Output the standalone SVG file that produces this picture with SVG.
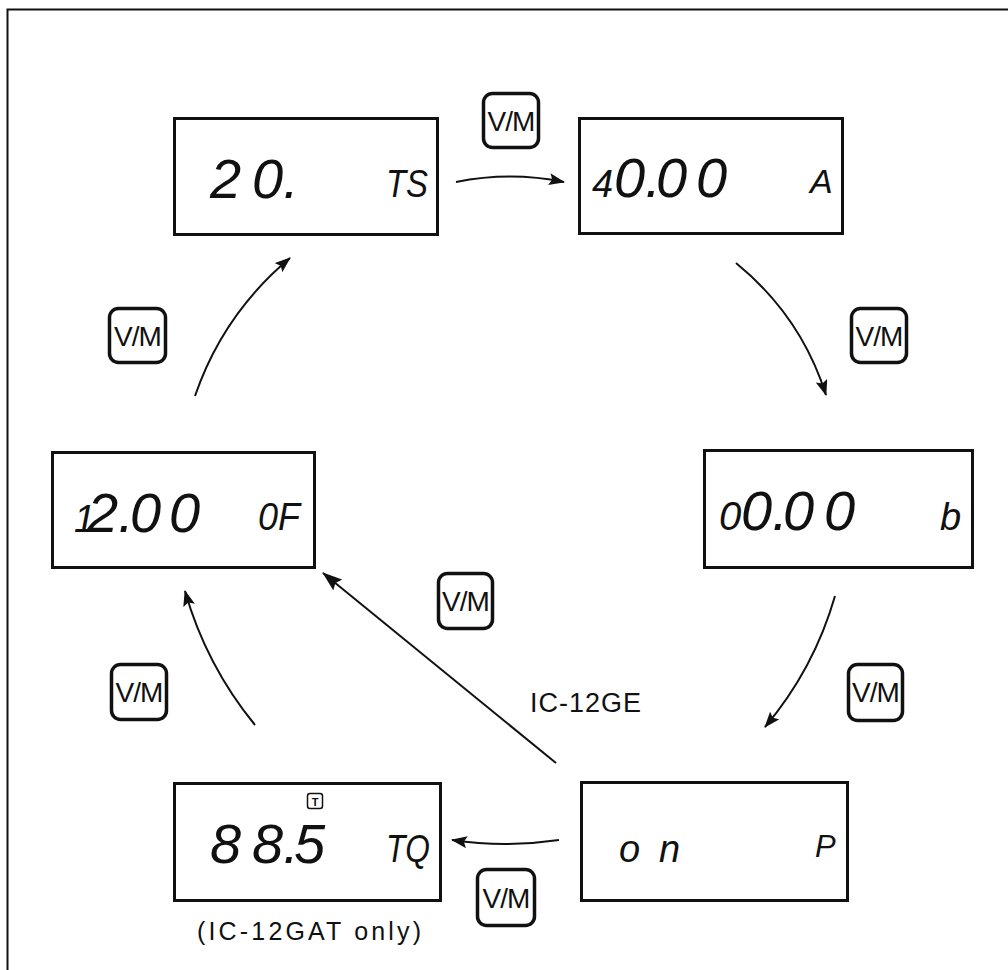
<svg xmlns="http://www.w3.org/2000/svg" width="1008" height="970" viewBox="0 0 1008 970">
<style>
.frame{fill:none;stroke:#111;stroke-width:2}
.box{fill:#fff;stroke:#111;stroke-width:3}
.btn{fill:#fff;stroke:#111;stroke-width:3.5}
.btxt{font-family:"Liberation Sans",Arial,sans-serif;font-size:28px;fill:#111;text-anchor:middle;letter-spacing:-1px}
.lcd{font-family:"Liberation Sans",Arial,sans-serif;font-style:italic;font-size:56px;fill:#111}
.lcds{font-family:"Liberation Sans",Arial,sans-serif;font-style:italic;font-size:38px;fill:#111}
.lbl{font-family:"Liberation Sans",Arial,sans-serif;font-size:25px;fill:#111}
.conn{fill:none;stroke:#111;stroke-width:2}
</style>
<defs>
<marker id="ah" markerUnits="userSpaceOnUse" markerWidth="16" markerHeight="12" refX="15" refY="6" orient="auto">
<path d="M0,0 L16,6 L0,12 L3,6 z" fill="#111"/>
</marker>
<marker id="ahl" markerUnits="userSpaceOnUse" markerWidth="20" markerHeight="14" refX="19" refY="7" orient="auto">
<path d="M0,0 L20,7 L0,14 L3,7 z" fill="#111"/>
</marker>
</defs>
<rect width="1008" height="970" fill="#fff"/>
<path class="frame" d="M7.5,970 L7.5,9.5 L1008,9.5"/>

<g id="connectors">
<path class="conn" d="M456,182 Q510,171 564,182" marker-end="url(#ah)"/>
<path class="conn" d="M736,263 Q801,316 826,395" marker-end="url(#ah)"/>
<path class="conn" d="M835,596 Q814,669 765,727" marker-end="url(#ah)"/>
<path class="conn" d="M559,840 Q505,848 452,840" marker-end="url(#ah)"/>
<path class="conn" d="M255,725 Q206,665 185,591" marker-end="url(#ah)"/>
<path class="conn" d="M195,396 Q223,314 290,258" marker-end="url(#ah)"/>
<path class="conn" d="M556,763 L323,573" marker-end="url(#ahl)"/>
</g>

<g id="node-ts">
<rect class="box" x="174.5" y="118.5" width="263" height="116"/>
<text class="lcd" y="198"><tspan x="210">2</tspan><tspan x="252">0.</tspan></text>
<text class="lcds" x="386" y="197" textLength="42" lengthAdjust="spacingAndGlyphs">TS</text>
</g>

<g id="node-a">
<rect class="box" x="579.5" y="118.5" width="263" height="115"/>
<text class="lcd" y="197"><tspan x="592" style="font-size:38px">4</tspan><tspan x="614">0.</tspan><tspan x="656">0</tspan><tspan x="696">0</tspan></text>
<text class="lcds" x="810" y="193" style="font-size:34px">A</text>
</g>

<g id="node-b">
<rect class="box" x="704.5" y="450.5" width="268" height="117"/>
<text class="lcd" y="530"><tspan x="719" style="font-size:40px">0</tspan><tspan x="741">0.</tspan><tspan x="783">0</tspan><tspan x="824">0</tspan></text>
<text class="lcds" x="940" y="530">b</text>
</g>

<g id="node-p">
<rect class="box" x="581.5" y="782.5" width="266" height="118"/>
<text class="lcds" y="862"><tspan x="619">o</tspan><tspan x="659">n</tspan></text>
<text class="lcds" x="815" y="857" style="font-size:31px">P</text>
</g>

<g id="node-tq">
<rect class="box" x="174.5" y="783.5" width="266" height="117"/>
<rect x="307.5" y="793.5" width="15" height="15" rx="2.5" fill="#fff" stroke="#111" stroke-width="1.5"/>
<text x="315" y="805.5" style="font-family:'Liberation Sans',Arial,sans-serif;font-size:11px;font-weight:bold;text-anchor:middle" fill="#111">T</text>
<text class="lcd" y="863"><tspan x="210">8</tspan><tspan x="252">8.</tspan><tspan x="294">5</tspan></text>
<text class="lcds" x="386" y="862" textLength="44" lengthAdjust="spacingAndGlyphs">TQ</text>
<text class="lbl" x="197" y="940" textLength="224" lengthAdjust="spacing">(IC-12GAT only)</text>
</g>

<g id="node-of">
<rect class="box" x="52.5" y="452.5" width="262" height="115"/>
<text class="lcd" y="532"><tspan x="74" style="font-size:38px">1</tspan><tspan x="87">2.</tspan><tspan x="130">0</tspan><tspan x="169">0</tspan></text>
<text class="lcds" x="258" y="530" textLength="42" lengthAdjust="spacingAndGlyphs">0F</text>
</g>

<g id="btn-1"><rect class="btn" x="483.5" y="93.5" width="55" height="54" rx="9"/><text class="btxt" x="511" y="131">V/M</text></g>
<g id="btn-2"><rect class="btn" x="109.5" y="308.5" width="56" height="54" rx="9"/><text class="btxt" x="137.5" y="346">V/M</text></g>
<g id="btn-3"><rect class="btn" x="851.5" y="308.5" width="55" height="54" rx="9"/><text class="btxt" x="879" y="346">V/M</text></g>
<g id="btn-4"><rect class="btn" x="438.5" y="573.5" width="54" height="55" rx="9"/><text class="btxt" x="465.5" y="611">V/M</text></g>
<g id="btn-5"><rect class="btn" x="111.5" y="664.5" width="55" height="55" rx="9"/><text class="btxt" x="139" y="702">V/M</text></g>
<g id="btn-6"><rect class="btn" x="848.5" y="664.5" width="54" height="56" rx="9"/><text class="btxt" x="875.5" y="702">V/M</text></g>
<g id="btn-7"><rect class="btn" x="477.5" y="869.5" width="57" height="56" rx="9"/><text class="btxt" x="506" y="908">V/M</text></g>

<g id="label-ic12ge">
<text class="lbl" x="530" y="712" style="font-size:27px" textLength="111" lengthAdjust="spacing">IC-12GE</text>
</g>
</svg>
